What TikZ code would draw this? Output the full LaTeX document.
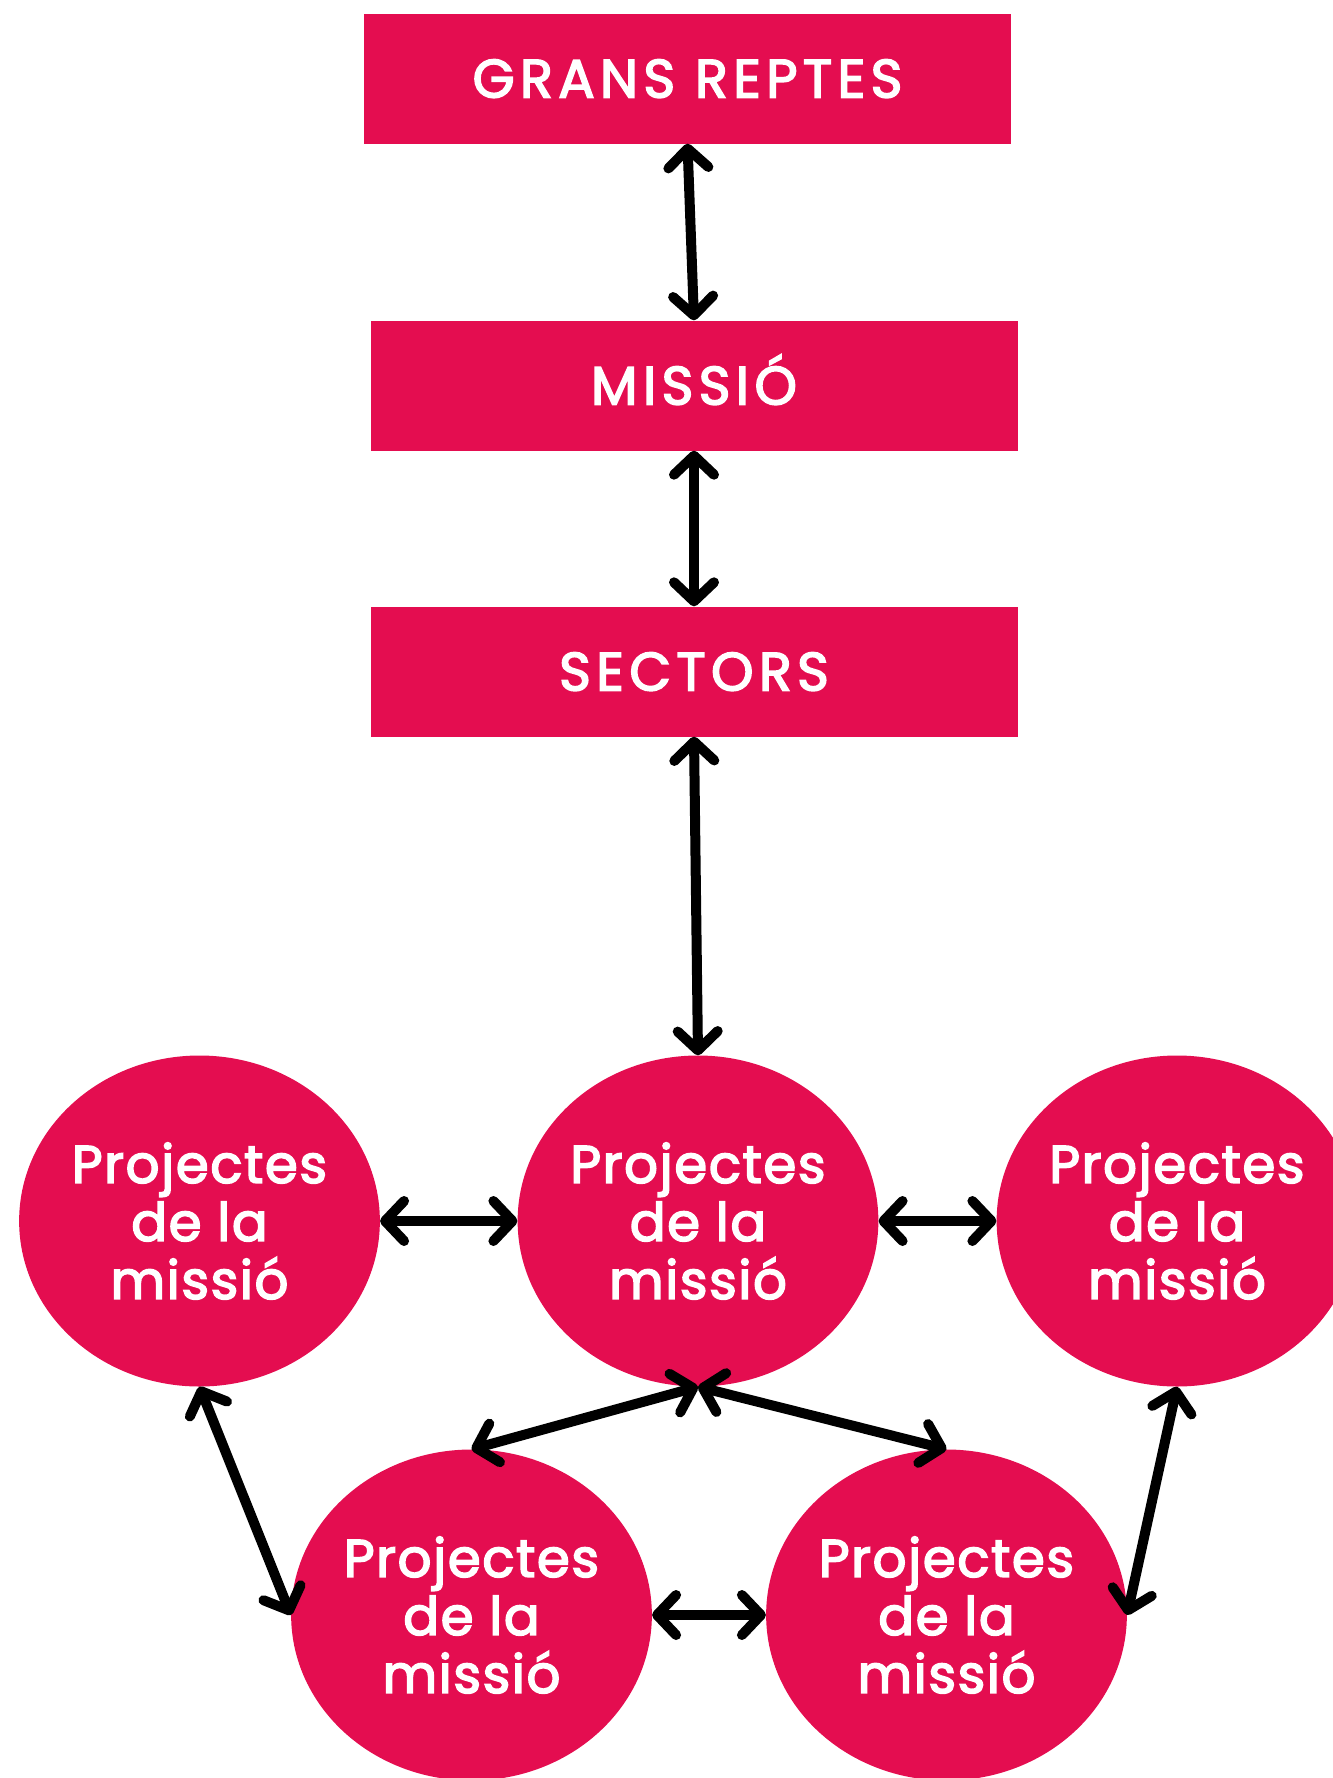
\documentclass[tikz,border=0pt]{standalone}
\usepackage{fontspec}
\setmainfont{Poppins}[UprightFeatures={FakeBold=3}]
\newfontfamily\capsfont{Poppins}[UprightFeatures={FakeBold=3}, LetterSpace=10]
\newfontfamily\bubblefont{Poppins}[UprightFeatures={FakeBold=3}, LetterSpace=3]
\usepackage{tikz}
\usetikzlibrary{arrows.meta}
\usetikzlibrary{shapes.geometric}
\definecolor{crimson}{RGB}{228, 13, 80}

\tikzset{
    box/.style={fill=crimson, text=white, inner sep=0pt,
                minimum width=647pt, minimum height=130pt,
                text height=38pt, text depth=0pt,
                font=\capsfont\fontsize{54}{58}\selectfont},
    bubble/.style={ellipse, fill=crimson, text=white, inner sep=0pt, align=center,
                   minimum width=358pt, minimum height=331pt,
                   font=\bubblefont\fontsize{53}{58}\selectfont},
    link/.style={line width=10pt, line cap=round,
                 {Straight Barb[length=19pt, width=40pt, round]}-{Straight Barb[length=19pt, width=40pt, round]}}
}

\begin{document}
\begin{tikzpicture}[x=1pt, y=-1pt]
            % Frame to ensure alignment:
            \useasboundingbox                                                 (0, 0) rectangle (1333, 1778);
            % Boxes
            \node[box] (reptes)  at ( 687.5,   78.5) {GRANS REPTES};
            \node[box] (missio)  at ( 694.0,  385.5) {MISSIÓ};
            \node[box] (sectors) at ( 694.0,  671.5) {SECTORS};
            % Projects
            \node[bubble] (pleft)   at ( 199.5, 1221.0) {Projectes\\de la\\missió};
            \node[bubble] (pmid)    at ( 698.0, 1221.0) {Projectes\\de la\\missió};
            \node[bubble] (pright)  at (1177.0, 1221.0) {Projectes\\de la\\missió};
            \node[bubble] (pbleft)  at ( 471.5, 1615.0) {Projectes\\de la\\missió};
            \node[bubble] (pbright) at ( 946.5, 1615.0) {Projectes\\de la\\missió};
            % Links
            \draw[link] (reptes.south)  -- (missio.north);
            \draw[link] (missio.south)  -- (sectors.north);
            \draw[link] (sectors.south) -- (pmid.north);
            \draw[link] (pleft.east)    -- (pmid.west);
            \draw[link] (pmid.east)     -- (pright.west);
            \draw[link] (pmid.south)    -- (pbleft.north);
            \draw[link] (pmid.south)    -- (pbright.north);
            \draw[link] (pleft.south)   -- (pbleft.west);
            \draw[link] (pright.south)  -- (pbright.east);
            \draw[link] (pbleft.east)   -- (pbright.west);
\end{tikzpicture}
\end{document}
